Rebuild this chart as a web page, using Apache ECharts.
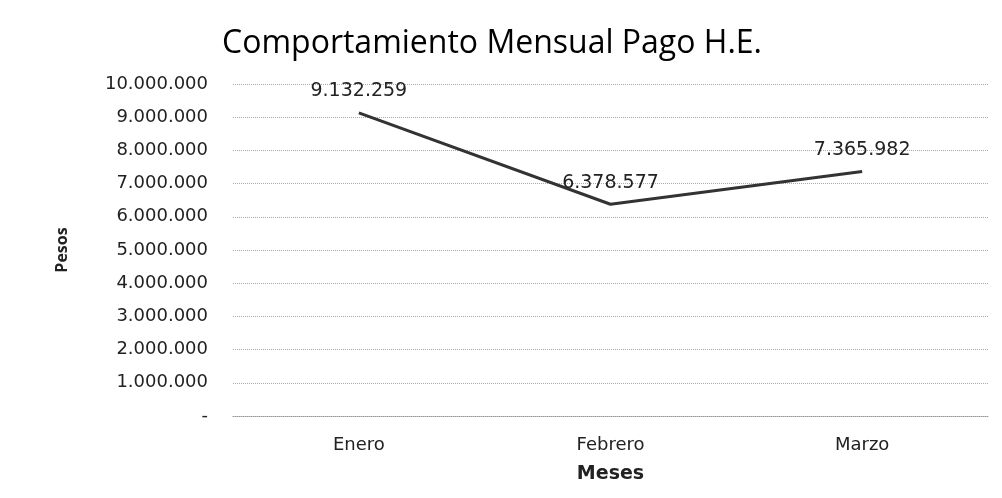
<!DOCTYPE html>
<html>
<head>
<meta charset="utf-8">
<script src="https://cdn.jsdelivr.net/npm/echarts@6/dist/echarts.min.js"></script>
<style>
  html, body { margin: 0; padding: 0; background: #fff; }
  #chart { width: 1002px; height: 498px; }
</style>
</head>
<body>
<div id="chart"></div>
<script>
// monthly overtime payments (pesos)
const months = ['Enero', 'Febrero', 'Marzo'];
const pagos = [9132259, 6378577, 7365982];

const fmt = v => v === 0 ? '-' : String(v).replace(/\B(?=(\d{3})+(?!\d))/g, '.');

const myChart = echarts.init(document.getElementById('chart'));

const option = {
  backgroundColor: '#fff',
  title: {
    text: 'Comportamiento Mensual Pago H.E.',
    left: 487,
    top: 23,
    textAlign: 'center',
    textStyle: { fontFamily: 'Open Sans', fontSize: 32, fontWeight: 'normal', color: '#000' }
  },
  grid: { left: 233, right: 14, top: 84, bottom: 82 },
  xAxis: {
    type: 'category',
    data: months,
    name: 'Meses',
    nameLocation: 'middle',
    nameGap: 49,
    nameTextStyle: { fontFamily: 'DejaVu Sans', fontSize: 19, fontWeight: 'bold', color: '#222' },
    axisLine: { lineStyle: { color: '#999', type: 'dotted' } },
    axisTick: { show: false },
    axisLabel: { fontFamily: 'DejaVu Sans', fontSize: 18, color: '#222', margin: 20 }
  },
  yAxis: {
    type: 'value',
    min: 0,
    max: 10000000,
    interval: 1000000,
    name: 'Pesos',
    nameLocation: 'middle',
    nameGap: 163,
    nameTextStyle: { fontFamily: 'Open Sans', fontSize: 16, fontWeight: 'bold', color: '#222' },
    axisLine: { show: false },
    axisTick: { show: false },
    splitLine: { lineStyle: { color: '#aaa', type: 'dotted' } },
    axisLabel: {
      fontFamily: 'DejaVu Sans',
      fontSize: 18,
      color: '#222',
      margin: 25,
      formatter: fmt
    }
  },
  series: [
    {
      name: 'Pago H.E.',
      type: 'line',
      data: pagos,
      symbol: 'circle',
      symbolSize: 0,
      itemStyle: { color: '#333' },
      lineStyle: { color: '#333', width: 3 },
      label: {
        show: true,
        position: 'top',
        distance: 12,
        fontFamily: 'DejaVu Sans',
        fontSize: 19,
        color: '#222',
        formatter: p => fmt(p.value)
      }
    }
  ]
};

myChart.setOption(option);
</script>
</body>
</html>
